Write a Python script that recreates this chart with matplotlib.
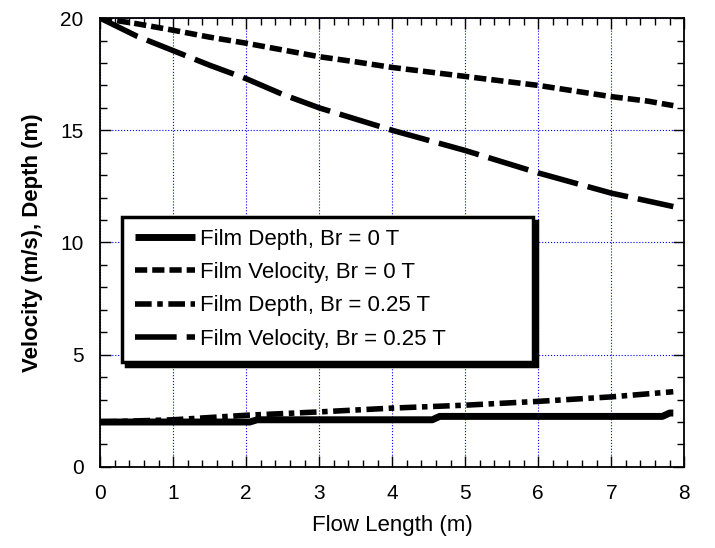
import numpy as np
import matplotlib
matplotlib.use("Agg")
import matplotlib.pyplot as plt
from matplotlib.ticker import MultipleLocator

plt.rcParams['font.family'] = ['Liberation Sans', 'DejaVu Sans']

# flow length (m) and the four curves
x_vel0 = [0, 0.5, 1, 1.5, 2, 2.5, 3, 3.5, 4, 4.5, 5, 5.5, 6, 6.5, 7, 7.5, 7.85]
vel_br0 = [20.0, 19.75, 19.46, 19.15, 18.88, 18.58, 18.28, 18.05, 17.8, 17.6,
           17.4, 17.2, 17.0, 16.75, 16.5, 16.3, 16.1]

x_vel25 = [0, 0.25, 0.5, 1, 1.5, 2, 2.5, 3, 3.5, 4, 4.5, 5, 5.5, 6, 6.5, 7, 7.5, 7.85]
vel_br25 = [20.0, 19.6, 19.2, 18.55, 17.9, 17.3, 16.6, 16.0, 15.5, 15.0, 14.55,
            14.1, 13.6, 13.1, 12.65, 12.2, 11.85, 11.6]

x_dep0 = [0, 2.05, 2.15, 4.55, 4.65, 7.7, 7.8, 7.85]
dep_br0 = [2.0, 2.0, 2.1, 2.1, 2.25, 2.25, 2.4, 2.4]

x_dep25 = [0, 1, 2, 3, 4, 5, 6, 7, 7.85]
dep_br25 = [2.0, 2.1, 2.3, 2.45, 2.62, 2.75, 2.92, 3.12, 3.35]

fig = plt.figure(figsize=(7.15, 5.48), dpi=100)
ax = fig.add_axes([0.14, 0.148, 0.817, 0.819])

ax.plot(x_dep0, dep_br0, color='black', lw=5, solid_capstyle='butt',
        label='Film Depth, Br = 0 T')
ax.plot(x_vel0, vel_br0, color='black', lw=4, dashes=(2.2, 0.9),
        label='Film Velocity, Br = 0 T')
ax.plot(x_dep25, dep_br25, color='black', lw=4, dashes=(3, 1, 1, 1),
        label='Film Depth, Br = 0.25 T')
ax.plot(x_vel25, vel_br25, color='black', lw=4, dashes=(7.5, 1.8),
        label='Film Velocity, Br = 0.25 T')

ax.set_xlim(0, 8)
ax.set_ylim(0, 20)
ax.xaxis.set_major_locator(MultipleLocator(1))
ax.xaxis.set_minor_locator(MultipleLocator(0.2))
ax.yaxis.set_major_locator(MultipleLocator(5))
ax.yaxis.set_minor_locator(MultipleLocator(1))
ax.tick_params(which='both', direction='in', top=True, right=True,
               labelsize=15, width=1)
ax.tick_params(which='major', length=8, pad=12)
ax.tick_params(which='minor', length=5)
ax.grid(True, which='major', color='#0000ff', ls=':', lw=0.8)
for s in ax.spines.values():
    s.set_linewidth(1.3)

ax.set_xlabel('Flow Length (m)', fontsize=16, labelpad=9)
ax.set_ylabel('Velocity (m/s), Depth (m)', fontsize=16, fontweight='bold',
              labelpad=12)

leg = ax.legend(loc='lower left', bbox_to_anchor=(0.038, 0.234, 0.703, 0.33),
                mode='expand', borderaxespad=0,
                fontsize=16, frameon=True, fancybox=False, framealpha=1,
                edgecolor='black', handlelength=2.7, handletextpad=0.25,
                labelspacing=0.55, borderpad=0.55,
                shadow={'color': 'black', 'alpha': 1, 'ox': 3, 'oy': -3})
leg.get_frame().set_linewidth(2.5)

fig.savefig('out.png', dpi=100)
